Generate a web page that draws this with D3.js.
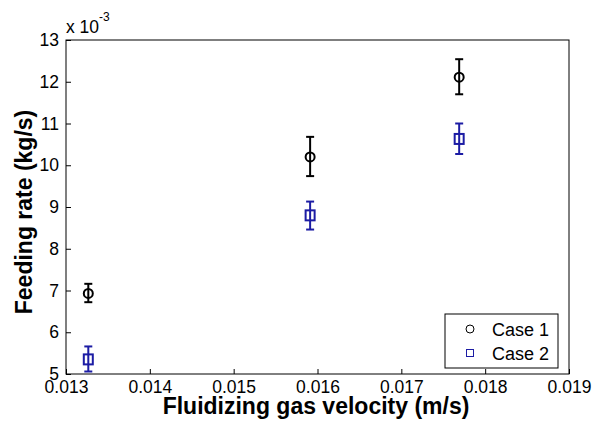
<!DOCTYPE html>
<html><head><meta charset="utf-8">
<script src="https://cdn.jsdelivr.net/npm/d3@7/dist/d3.min.js"></script>
<style>body{margin:0;background:#fff}svg{display:block}</style>
</head><body>
<svg id="c" width="595" height="421"></svg>
<script>
const velocity = [0.013266, 0.015912, 0.01769];
const case1 = [6.93, 10.2, 12.11];
const case1Lo = [6.72, 9.74, 11.70];
const case1Hi = [7.16, 10.68, 12.54];
const case2 = [5.35, 8.8, 10.63];
const case2Lo = [5.06, 8.46, 10.27];
const case2Hi = [5.66, 9.13, 11.0];
const xTicks = [0.013, 0.014, 0.015, 0.016, 0.017, 0.018, 0.019];
const yTicks = [5, 6, 7, 8, 9, 10, 11, 12, 13];
const seriesNames = ["Case 1", "Case 2"];

const svg = d3.select("#c");
const L = 66, R = 569, T = 40, B = 374;
const x = d3.scaleLinear().domain([0.013, 0.019]).range([L, R]);
const y = d3.scaleLinear().domain([5, 13]).range([B, T]);
const font = "Arial, 'Liberation Sans', sans-serif";

svg.append("rect").attr("x", L).attr("y", T).attr("width", R - L).attr("height", B - T)
  .attr("fill", "none").attr("stroke", "#000").attr("stroke-width", 1);

const xa = svg.append("g").attr("transform", `translate(0,${B})`)
  .call(d3.axisBottom(x).tickValues(xTicks).tickFormat(d3.format(".3f")).tickSizeInner(-5).tickSizeOuter(0).tickPadding(7));
const ya = svg.append("g").attr("transform", `translate(${L},0)`)
  .call(d3.axisLeft(y).tickValues(yTicks).tickFormat(d3.format("d")).tickSizeInner(-5).tickSizeOuter(0).tickPadding(7));
[xa, ya].forEach(g => {
  g.select(".domain").remove();
  g.selectAll("text").attr("font-family", font).attr("font-size", 17.5).attr("fill", "#000");
  g.selectAll("line").attr("stroke", "#000");
});

// exponent
const ex = svg.append("text").attr("x", L).attr("y", 33).attr("font-family", font).attr("font-size", 17.5);
ex.append("tspan").text("x 10");
ex.append("tspan").attr("dy", -12).attr("font-size", 12).text("-3");

// axis labels
svg.append("text").attr("x", 316).attr("y", 414).attr("text-anchor", "middle")
  .attr("font-family", font).attr("font-size", 23).attr("font-weight", "bold").text("Fluidizing gas velocity (m/s)");
svg.append("text").attr("transform", `translate(32,212) rotate(-90)`).attr("text-anchor", "middle")
  .attr("font-family", font).attr("font-size", 23).attr("font-weight", "bold").text("Feeding rate (kg/s)");

function errBars(vals, lo, hi, color) {
  const g = svg.append("g").attr("stroke", color).attr("stroke-width", 2).attr("fill", "none");
  velocity.forEach((v, i) => {
    const cx = x(v);
    g.append("line").attr("x1", cx).attr("x2", cx).attr("y1", y(lo[i])).attr("y2", y(hi[i]));
    g.append("line").attr("x1", cx - 4).attr("x2", cx + 4).attr("y1", y(lo[i])).attr("y2", y(lo[i]));
    g.append("line").attr("x1", cx - 4).attr("x2", cx + 4).attr("y1", y(hi[i])).attr("y2", y(hi[i]));
  });
  return g;
}
const g1 = errBars(case1, case1Lo, case1Hi, "#000");
g1.selectAll("circle.m").data(case1).join("circle").attr("class", "m")
  .attr("cx", (d, i) => x(velocity[i])).attr("cy", d => y(d)).attr("r", 4.5).attr("fill", "none");
const g2 = errBars(case2, case2Lo, case2Hi, "#1c1ca4");
g2.selectAll("rect.m").data(case2).join("rect").attr("class", "m")
  .attr("x", (d, i) => x(velocity[i]) - 4.5).attr("y", d => y(d) - 5).attr("width", 9).attr("height", 10).attr("fill", "none");

// legend
const lg = svg.append("g");
lg.append("rect").attr("x", 445).attr("y", 314).attr("width", 113).attr("height", 54)
  .attr("fill", "#fff").attr("stroke", "#000").attr("stroke-width", 1);
lg.append("circle").attr("cx", 470).attr("cy", 329).attr("r", 4).attr("fill", "none").attr("stroke", "#000").attr("stroke-width", 1);
lg.append("rect").attr("x", 466.5).attr("y", 349.5).attr("width", 7).attr("height", 7).attr("fill", "none").attr("stroke", "#1c1ca4").attr("stroke-width", 1);
lg.selectAll("text").data(seriesNames).join("text").attr("x", 492).attr("y", (d, i) => 336 + i * 24)
  .attr("font-family", font).attr("font-size", 18).text(d => d);
</script>
</body></html>
